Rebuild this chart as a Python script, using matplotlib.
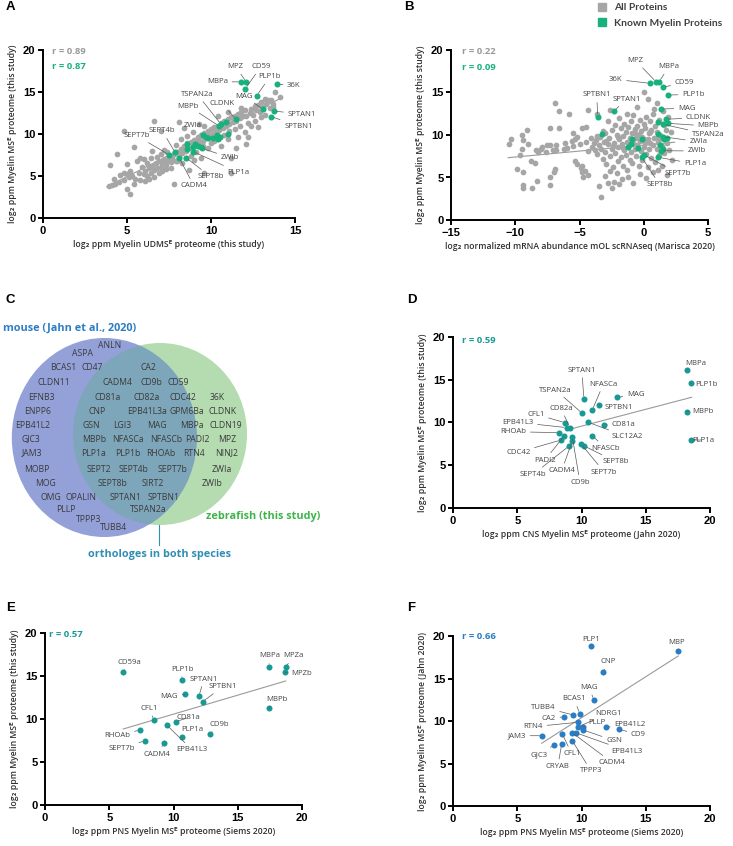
import numpy as np
import matplotlib
matplotlib.use("Agg")
import matplotlib.pyplot as plt
from matplotlib.patches import Ellipse
from matplotlib.lines import Line2D

plt.rcParams['font.family'] = ['Open Sans', 'DejaVu Sans']

GRAY = '#a6a6a6'
GREEN = '#17b27b'
TEAL = '#189a94'
BLUE = '#2a7dc4'
LABEL = '#454545'

# ---------------- panel A: UDMSE vs MSE (this study) ----------------
a_gray = np.array([
    (3.9, 3.8), (4.1, 3.9), (4.3, 4.0), (4.2, 4.7), (4.5, 4.3), (4.8, 4.5), (4.6, 5.1), (5.0, 5.2),
    (5.1, 4.9), (5.3, 5.0), (5.2, 5.6), (5.5, 4.6), (5.4, 4.1), (5.2, 2.9), (5.0, 3.5), (4.0, 6.3),
    (4.4, 7.6), (4.8, 5.3), (5.0, 6.4), (5.4, 8.5), (4.8, 10.3), (5.8, 4.5), (5.7, 5.4), (5.9, 6.1),
    (5.6, 6.8), (5.8, 7.1), (6.0, 5.2), (6.1, 5.6), (6.2, 5.0), (6.3, 5.9), (6.4, 5.4), (6.5, 6.2),
    (6.6, 5.7), (6.7, 6.5), (6.8, 5.9), (6.9, 6.8), (7.0, 6.1), (7.1, 6.6), (7.2, 7.0), (7.3, 6.3),
    (7.4, 6.8), (7.5, 7.3), (6.2, 6.6), (6.4, 7.2), (6.6, 4.9), (6.9, 5.3), (7.1, 5.6), (7.3, 5.8),
    (6.1, 4.4), (6.3, 4.6), (6.0, 7.0), (6.6, 11.6), (7.0, 10.3), (6.5, 8.0), (7.0, 7.6), (7.2, 8.1),
    (7.4, 7.9), (7.6, 6.0), (7.8, 4.1), (6.8, 7.3), (7.6, 6.7), (7.7, 7.2), (7.9, 6.8), (7.8, 7.6),
    (8.0, 7.9), (8.1, 7.3), (8.2, 8.2), (8.3, 7.7), (8.4, 8.6), (8.5, 8.0), (8.6, 8.9), (8.7, 8.3),
    (8.8, 9.1), (8.9, 8.6), (9.0, 9.3), (9.1, 8.8), (9.2, 9.6), (9.3, 9.0), (9.4, 9.9), (9.5, 9.2),
    (9.6, 10.1), (9.7, 9.5), (9.8, 10.4), (9.9, 9.8), (10.0, 10.6), (8.1, 11.4), (8.4, 10.7), (8.7, 5.7),
    (8.0, 6.8), (8.3, 6.5), (8.8, 7.4), (9.1, 7.8), (9.6, 5.3), (9.4, 7.2), (9.8, 8.3), (8.6, 9.8),
    (8.9, 10.2), (9.3, 11.2), (9.6, 11.0), (7.9, 8.7), (8.2, 9.4), (8.5, 7.2), (9.0, 6.9), (9.5, 8.6),
    (10.0, 8.9), (10.1, 10.0), (10.2, 10.8), (10.3, 10.3), (10.4, 11.0), (10.5, 10.5), (10.6, 11.3),
    (10.7, 10.7), (10.8, 11.5), (10.9, 11.0), (11.0, 11.8), (11.1, 11.2), (11.2, 12.0), (11.3, 11.4),
    (11.4, 12.2), (11.5, 11.6), (11.6, 12.4), (11.7, 11.9), (11.8, 12.6), (11.9, 12.1), (12.0, 12.8),
    (10.2, 9.2), (10.5, 9.6), (10.8, 9.9), (11.1, 10.3), (11.4, 10.6), (11.7, 10.9), (10.6, 8.6),
    (11.0, 9.4), (11.5, 8.3), (11.2, 7.2), (11.2, 5.4), (12.1, 8.8), (12.2, 9.7), (12.1, 12.1),
    (11.0, 12.6), (10.4, 12.1), (11.8, 13.1), (12.0, 10.2), (12.2, 11.3), (11.6, 9.6), (12.3, 12.5),
    (12.4, 13.0), (12.5, 12.3), (12.6, 13.3), (12.7, 12.8), (12.8, 13.5), (12.9, 12.6), (13.0, 13.8),
    (13.1, 13.2), (13.2, 14.2), (13.3, 13.6), (13.4, 14.0), (13.5, 13.1), (13.6, 14.1), (13.7, 13.6),
    (13.8, 15.0), (14.1, 14.4), (13.2, 12.3), (12.6, 11.6), (13.0, 12.0), (12.4, 11.0), (12.8, 10.8),
    (13.7, 13.2),
])
a_names = ['MPZ', 'CD59', 'MBPa', 'PLP1b', '36K', 'MAG', 'TSPAN2a', 'CLDNK', 'MBPb', 'ZWIa',
           'SEPT7b', 'SEPT4b', 'SPTAN1', 'SPTBN1', 'ZWIb', 'PLP1a', 'SEPT8b', 'CADM4']
a_x = [12.1, 12.05, 11.8, 12.72, 13.95, 13.1, 10.58, 11.49, 10.48, 9.54,
       7.52, 7.86, 13.75, 13.6, 9.45, 8.95, 8.51, 8.1]
a_y = [16.2, 15.4, 16.2, 14.56, 15.9, 12.94, 11.2, 11.75, 10.95, 9.88,
       7.5, 7.82, 12.74, 12.06, 8.3, 7.9, 7.18, 7.18]
a_other_x = [10.89, 10.99, 9.84, 10.14, 10.38, 10.44, 10.54, 9.05, 8.59, 8.55, 9.4, 8.95, 9.2, 9.7]
a_other_y = [11.46, 10.0, 9.56, 9.49, 9.88, 9.37, 9.6, 8.77, 8.21, 8.81, 8.49, 8.5, 8.6, 9.6]
a_fit_x = [3.8, 14.2]
a_fit_y = [3.7, 14.3]
a_r = ['r = 0.89', 'r = 0.87']

# ---------------- panel B: mRNA vs MSE ----------------
b_gray = np.array([
    (-10.5, 8.9), (-10.3, 9.5), (-9.9, 6.0), (-9.6, 7.6), (-9.5, 8.3), (-9.5, 10.0), (-9.4, 9.4),
    (-9.4, 5.6), (-9.4, 4.1), (-9.4, 3.8), (-9.1, 10.6), (-9.0, 8.9), (-8.8, 6.9), (-8.7, 3.8),
    (-8.5, 6.7), (-8.4, 8.2), (-8.3, 4.6), (-8.25, 8.0), (-8.0, 8.3), (-7.9, 8.6), (-7.6, 8.0),
    (-7.55, 8.8), (-7.3, 10.8), (-7.3, 8.8), (-7.3, 5.1), (-7.3, 4.1), (-7.05, 8.2), (-7.0, 5.6),
    (-6.9, 13.8), (-6.9, 6.0), (-6.8, 8.8), (-6.8, 8.2), (-6.6, 12.8), (-6.6, 10.8), (-6.2, 8.3),
    (-6.1, 9.1), (-6.0, 8.45), (-5.8, 12.5), (-5.6, 9.3), (-5.5, 8.7), (-5.35, 9.5), (-5.35, 6.9),
    (-5.2, 6.6), (-5.5, 10.2), (-5.2, 9.8), (-4.9, 6.1), (-4.8, 6.4), (-4.8, 5.7), (-4.8, 10.8),
    (-4.7, 5.0), (-4.6, 5.8), (-4.5, 10.9), (-4.3, 5.3), (-4.3, 12.9), (-3.6, 12.5),
    (-4.0, 8.6), (-3.9, 9.0), (-3.8, 8.2), (-3.7, 9.4), (-3.6, 7.8), (-3.5, 8.8), (-3.4, 9.8),
    (-3.3, 2.7), (-3.3, 8.4), (-3.2, 7.2), (-3.1, 9.2), (-3.0, 10.2), (-3.0, 8.0), (-2.9, 6.6),
    (-2.8, 4.3), (-2.8, 8.9), (-2.75, 11.7), (-2.7, 9.6), (-2.6, 7.5), (-2.5, 10.6), (-2.5, 8.3),
    (-2.45, 3.8), (-2.4, 6.2), (-2.3, 9.1), (-2.2, 7.9), (-2.2, 11.2), (-2.1, 5.5), (-2.1, 10.0),
    (-2.0, 8.6), (-2.0, 6.9), (-1.9, 9.5), (-1.9, 12.0), (-1.8, 7.4), (-1.8, 10.8), (-1.7, 8.9),
    (-1.7, 4.8), (-1.6, 9.9), (-1.6, 6.4), (-1.5, 8.2), (-1.5, 11.3), (-1.4, 10.4), (-1.4, 7.7),
    (-1.3, 9.2), (-1.3, 5.9), (-1.2, 8.6), (-1.2, 10.9), (-1.1, 9.7), (-1.1, 7.1), (-1.0, 8.0),
    (-1.0, 11.6), (-0.9, 10.2), (-0.9, 6.7), (-0.8, 9.0), (-0.8, 12.4), (-0.7, 8.4), (-0.7, 10.7),
    (-0.6, 9.6), (-0.6, 7.5), (-0.5, 13.25), (-0.5, 8.8), (-0.5, 11.1), (-0.4, 10.0), (-0.4, 6.3),
    (-0.3, 9.3), (-0.3, 11.8), (-0.2, 8.1), (-0.2, 10.5), (-0.1, 9.8), (-0.1, 7.0), (0.0, 15.1),
    (0.0, 8.6), (0.0, 11.3), (0.1, 9.1), (0.1, 10.8), (0.2, 7.8), (0.2, 12.1), (0.3, 14.2),
    (0.3, 9.5), (0.3, 6.2), (0.4, 10.2), (0.4, 8.3), (0.5, 11.6), (0.5, 9.0), (0.6, 7.3),
    (0.6, 10.6), (0.7, 8.8), (0.7, 12.5), (0.8, 13.1), (0.8, 9.7), (0.9, 6.8), (0.9, 11.0),
    (1.0, 8.4), (1.0, 10.3), (1.05, 13.8), (1.1, 9.2), (1.1, 5.9), (1.2, 7.6), (1.2, 11.8),
    (1.3, 10.0), (1.4, 8.7), (1.4, 6.4), (1.5, 9.6), (1.5, 12.8), (1.6, 7.9), (1.7, 10.6),
    (1.8, 5.3), (1.8, 9.0), (1.9, 12.1), (2.0, 8.2), (2.1, 10.3), (2.2, 7.0),
    (-3.5, 4.0), (-3.0, 5.2), (-2.6, 5.8), (-1.9, 4.2), (-1.2, 5.0), (-0.8, 4.4), (-0.3, 5.4),
    (0.2, 4.9), (0.7, 5.6), (-2.3, 4.5), (-3.6, 9.9), (-3.2, 10.5), (-2.9, 9.3), (-2.4, 8.7),
    (-2.0, 9.8), (-1.6, 8.5), (-1.0, 9.3), (-0.6, 10.1), (0.0, 9.5), (0.5, 10.4), (1.2, 9.5),
    (1.6, 11.2), (-1.3, 12.5), (-2.6, 12.9), (-4.1, 9.6), (-4.3, 8.1), (-4.5, 9.2), (-5.0, 8.9),
])
b_names = ['MPZ', 'MBPa', '36K', 'CD59', 'PLP1b', 'MAG', 'CLDNK', 'MBPb', 'TSPAN2a', 'ZWIa',
           'ZWIb', 'PLP1a', 'SEPT7b', 'SEPT8b', 'SPTBN1', 'SPTAN1']
b_x = [0.95, 1.19, 0.49, 1.47, 1.91, 1.34, 1.73, 1.91, 1.52, 1.47,
       1.34, 1.13, 0.04, -0.16, -3.58, -2.32]
b_y = [16.27, 16.27, 16.08, 15.6, 14.7, 13.06, 11.85, 11.37, 11.25, 9.8,
       8.15, 7.38, 7.65, 7.38, 12.15, 12.82]
b_other_x = [1.13, -3.27, 1.13, 1.78, 1.6, -0.94, -0.16, -0.47, -1.2, -1.02, 1.26, 1.47]
b_other_y = [11.57, 10.12, 10.08, 9.61, 9.5, 9.49, 9.49, 8.43, 8.55, 8.94, 8.82, 8.31]
b_fit_x = [-10.55, 2.4]
b_fit_y = [7.33, 9.15]
b_r = ['r = 0.22', 'r = 0.09']

# ---------------- panel C: Venn ----------------
mouse_only = ['ANLN', 'ASPA', 'BCAS1', 'CD47', 'CLDN11', 'EFNB3', 'ENPP6', 'EPB41L2', 'GJC3',
              'JAM3', 'MOBP', 'MOG', 'OMG', 'OPALIN', 'PLLP', 'TPPP3', 'TUBB4']
both_species = ['CA2', 'CADM4', 'CD9b', 'CD59', 'CD81a', 'CD82a', 'CDC42', 'CNP', 'EPB41L3a',
                'GPM6Ba', 'GSN', 'LGI3', 'MAG', 'MBPa', 'MBPb', 'NFASCa', 'NFASCb', 'PADI2',
                'PLP1a', 'PLP1b', 'RHOAb', 'RTN4', 'SEPT2', 'SEPT4b', 'SEPT7b', 'SEPT8b',
                'SIRT2', 'SPTAN1', 'SPTBN1', 'TSPAN2a']
zebrafish_only = ['36K', 'CLDNK', 'CLDN19', 'MPZ', 'NINJ2', 'ZWIa', 'ZWIb']

# ---------------- panel D: CNS (Jahn 2020) vs this study ----------------
d_names = ['MBPa', 'PLP1b', 'MBPb', 'PLP1a', 'SPTAN1', 'NFASCa', 'MAG', 'TSPAN2a', 'SPTBN1',
           'CD82a', 'CFL1', 'EPB41L3', 'RHOAb', 'CD81a', 'SLC12A2', 'NFASCb', 'CDC42',
           'PADI2', 'SEPT8b', 'SEPT4b', 'CADM4', 'SEPT7b', 'CD9b']
d_x = [18.18, 18.52, 18.18, 18.52, 10.19, 10.84, 12.74, 10.06, 11.36,
       9.1, 8.72, 8.85, 8.27, 11.72, 10.53, 10.84, 8.4,
       8.66, 10.22, 9.03, 9.28, 9.96, 9.28]
d_y = [16.14, 14.58, 11.27, 7.95, 12.75, 11.46, 12.94, 11.07, 12.05,
       9.4, 9.98, 9.4, 8.81, 9.71, 10.02, 8.46, 7.95,
       8.46, 7.25, 7.25, 7.84, 7.49, 8.34]
d_fit_x = [8.85, 18.57]
d_fit_y = [9.12, 12.95]

# ---------------- panel E: PNS (Siems 2020) vs this study ----------------
e_names = ['CD59a', 'MBPa', 'MPZa', 'MPZb', 'MBPb', 'PLP1b', 'MAG', 'SPTAN1', 'SPTBN1', 'CFL1',
           'CD81a', 'EPB41L3', 'PLP1a', 'CD9b', 'RHOAb', 'SEPT7b', 'CADM4']
e_x = [6.09, 17.43, 18.73, 18.68, 17.43, 10.64, 10.89, 11.98, 12.27, 8.48,
       10.17, 9.47, 10.64, 12.84, 7.39, 7.78, 9.26]
e_y = [15.43, 16.08, 16.01, 15.43, 11.24, 14.53, 12.87, 12.67, 12.01, 9.88,
       9.69, 9.3, 7.95, 8.26, 8.72, 7.48, 7.17]
e_fit_x = [6.09, 18.73]
e_fit_y = [8.84, 14.42]

# ---------------- panel F: PNS (Siems 2020) vs CNS (Jahn 2020) ----------------
f_names = ['PLP1', 'MBP', 'CNP', 'MAG', 'BCAS1', 'TUBB4', 'CA2', 'NDRG1', 'RTN4', 'PLLP',
           'EPB41L2', 'CD9', 'JAM3', 'GSN', 'EPB41L3', 'CADM4', 'TPPP3', 'CRYAB', 'CFL1', 'GJC3']
f_x = [10.74, 17.48, 11.7, 10.97, 9.88, 9.36, 8.64, 9.75, 9.75, 10.14,
       11.91, 12.92, 6.95, 10.14, 9.55, 9.28, 9.28, 8.46, 8.51, 7.86]
f_y = [18.86, 18.27, 15.73, 12.47, 10.82, 10.71, 10.51, 9.33, 9.85, 9.33,
       9.25, 9.02, 8.27, 8.94, 8.62, 8.62, 7.69, 7.29, 8.47, 7.18]
f_fit_x = [6.9, 17.53]
f_fit_y = [7.38, 17.65]

# label positions (data units), same order as the name lists
a_text = [(11.47, 18.0), (12.96, 18.0), (10.38, 16.23), (13.51, 16.82), (14.94, 15.83),
          (11.98, 14.52), (9.18, 14.73), (10.64, 13.65), (8.65, 13.33), (8.91, 10.99),
          (5.58, 9.8), (7.1, 10.36), (15.4, 12.35), (15.2, 10.95), (11.13, 7.18),
          (11.63, 5.44), (9.98, 4.92), (8.99, 3.81)]
b_text = [(-0.63, 18.74), (1.96, 18.04), (-2.18, 16.55), (3.16, 16.2), (3.86, 14.79),
          (3.34, 13.14), (4.25, 12.04), (5.02, 11.06), (5.02, 10.08), (4.25, 9.21),
          (4.12, 8.12), (3.99, 6.59), (2.69, 5.49), (1.26, 4.12), (-3.66, 14.71), (-1.33, 14.2)]
d_text = [(18.91, 16.92), (19.74, 14.5), (19.48, 11.26), (19.48, 7.95), (10.02, 16.14),
          (11.7, 14.5), (14.22, 13.22), (7.99, 13.8), (12.92, 11.78), (8.4, 11.66),
          (6.44, 10.96), (5.04, 10.02), (4.69, 8.92), (13.25, 9.79), (13.52, 8.34),
          (11.88, 6.98), (5.08, 6.51), (7.16, 5.61), (12.66, 5.42), (6.25, 3.94),
          (8.46, 4.36), (11.77, 4.21), (9.88, 3.01)]
e_text = [(6.54, 16.59), (17.46, 17.33), (19.32, 17.33), (19.97, 15.31), (18.03, 12.29),
          (10.69, 15.81), (9.68, 12.67), (12.37, 14.65), (13.83, 13.76), (8.09, 11.24),
          (11.15, 10.15), (11.46, 6.4), (11.46, 8.8), (13.54, 9.36), (5.63, 8.06),
          (5.97, 6.59), (8.74, 5.93)]
f_text = [(10.74, 19.61), (17.41, 19.29), (12.04, 16.98), (10.58, 13.96), (9.42, 12.59),
          (7.03, 11.61), (7.47, 10.24), (12.14, 10.9), (6.25, 9.33), (11.23, 9.8),
          (13.77, 9.61), (14.42, 8.43), (4.96, 8.27), (12.53, 7.69), (13.56, 6.47),
          (12.4, 5.1), (10.74, 4.12), (8.15, 4.63), (9.24, 6.12), (6.72, 6.08)]


def style_axes(ax, xlim, xticks, xlabel, ylabel):
    ax.set_xlim(*xlim)
    ax.set_ylim(0, 20)
    ax.set_xticks(xticks)
    ax.set_yticks([0, 5, 10, 15, 20])
    for s in ['top', 'right']:
        ax.spines[s].set_visible(False)
    for s in ['left', 'bottom']:
        ax.spines[s].set_linewidth(1.4)
    ax.tick_params(width=1.4, length=3.5, pad=2, labelsize=8)
    for t in ax.get_xticklabels() + ax.get_yticklabels():
        t.set_fontweight('bold')
        t.set_family(['Liberation Sans', 'DejaVu Sans'])
    ax.set_xlabel(xlabel, fontsize=6.2, fontweight='semibold', color='#303030', labelpad=3)
    ax.set_ylabel(ylabel, fontsize=6.2, fontweight='semibold', color='#303030', labelpad=4)
    ax.patch.set_alpha(0)


def label_points(ax, names, xs, ys, text_pos):
    for name, x, y, (tx, ty) in zip(names, xs, ys, text_pos):
        ax.annotate(name, xy=(x, y), xytext=(tx, ty), ha='center', va='center',
                    fontsize=5.6, color=LABEL, annotation_clip=False, zorder=5,
                    arrowprops=dict(arrowstyle='-', color='#5a5a5a', lw=0.5,
                                    shrinkA=1, shrinkB=2))


W, H = 733, 846
fig = plt.figure(figsize=(W / 100, H / 100), dpi=100)


def add_px_axes(left, top, right, bottom):
    return fig.add_axes([left / W, 1 - bottom / H, (right - left) / W, (bottom - top) / H])


ylab_this = 'log\u2082 ppm Myelin MS\u1d31 proteome (this study)'

# A
ax_a = add_px_axes(43, 50, 295, 218)
ax_a.plot(a_fit_x, a_fit_y, color='#9a9a9a', lw=0.8, zorder=1)
ax_a.scatter(a_gray[:, 0], a_gray[:, 1], s=17, color=GRAY, linewidths=0, zorder=2)
ax_a.scatter(a_other_x, a_other_y, s=19, color=GREEN, linewidths=0, zorder=3)
ax_a.scatter(a_x, a_y, s=19, color=GREEN, linewidths=0, zorder=3)
label_points(ax_a, a_names, a_x, a_y, a_text)
style_axes(ax_a, (0, 15), [0, 5, 10, 15],
           'log\u2082 ppm Myelin UDMS\u1d31 proteome (this study)', ylab_this)
ax_a.text(0.035, 0.99, a_r[0], transform=ax_a.transAxes, fontsize=6.8, fontweight='bold',
          color='#9a9a9a', va='center')
ax_a.text(0.035, 0.90, a_r[1], transform=ax_a.transAxes, fontsize=6.8, fontweight='bold',
          color=GREEN, va='center')

# B
ax_b = add_px_axes(451, 50, 708, 220)
ax_b.plot(b_fit_x, b_fit_y, color='#9a9a9a', lw=0.8, zorder=1)
ax_b.scatter(b_gray[:, 0], b_gray[:, 1], s=17, color=GRAY, linewidths=0, zorder=2)
ax_b.scatter(b_other_x, b_other_y, s=19, color=GREEN, linewidths=0, zorder=3)
ax_b.scatter(b_x, b_y, s=19, color=GREEN, linewidths=0, zorder=3)
label_points(ax_b, b_names, b_x, b_y, b_text)
style_axes(ax_b, (-15, 5), [-15, -10, -5, 0, 5],
           'log\u2082 normalized mRNA abundance mOL scRNAseq (Marisca 2020)', ylab_this)
ax_b.text(0.042, 0.99, b_r[0], transform=ax_b.transAxes, fontsize=6.8, fontweight='bold',
          color='#9a9a9a', va='center')
ax_b.text(0.042, 0.90, b_r[1], transform=ax_b.transAxes, fontsize=6.8, fontweight='bold',
          color=GREEN, va='center')

handles = [Line2D([], [], marker='s', ls='', color=GRAY, markersize=6),
           Line2D([], [], marker='s', ls='', color=GREEN, markersize=6)]
leg = fig.legend(handles, ['All Proteins', 'Known Myelin Proteins'], loc='upper left',
                 bbox_to_anchor=(597 / W, 1 - 3 / H), frameon=False, handlelength=1.0,
                 handletextpad=0.7, labelspacing=0.65, borderpad=0, borderaxespad=0,
                 prop={'family': ['Lato', 'DejaVu Sans'], 'size': 7.4, 'weight': 'bold'})
for t in leg.get_texts():
    t.set_color('#404040')

# C - Venn
ax_c = add_px_axes(0, 280, 370, 570)
ax_c.set_xlim(0, 370)
ax_c.set_ylim(570, 280)
ax_c.axis('off')
blue_c = Ellipse((104.3, 437.5), 185, 199, facecolor='#93a1d8', edgecolor='none', zorder=1)
green_c = Ellipse((160, 434), 174, 182, facecolor='#b5dbb1', edgecolor='none', zorder=1)
overlap = Ellipse((160, 434), 174, 182, facecolor='#7ea6ba', edgecolor='none', zorder=2)
ax_c.add_patch(green_c)
ax_c.add_patch(blue_c)
ax_c.add_patch(overlap)
overlap.set_clip_path(blue_c)

mouse_pos = [(110, 345), (82, 353), (63, 367), (92, 367), (54, 382), (41, 397), (38, 412),
             (33, 425), (31, 439), (32, 453), (37, 469), (46, 483), (51, 498), (81, 498),
             (66, 510), (89, 519), (114, 528)]
both_pos = [(148, 367), (117, 382), (151, 382), (178, 382), (108, 397), (147, 397), (183, 397),
            (97, 412), (147, 412), (187, 412), (91, 425), (122, 425), (157, 425), (192, 425),
            (94, 439), (128, 439), (166, 439), (197, 439), (94, 453), (128, 453), (161, 453),
            (194, 453), (99, 469), (134, 469), (173, 469), (113, 483), (153, 483), (126, 498),
            (164, 498), (148, 510)]
zf_pos = [(217, 397), (223, 412), (226, 425), (227, 439), (227, 453), (222, 469), (212, 483)]
for names, pos in [(mouse_only, mouse_pos), (both_species, both_pos), (zebrafish_only, zf_pos)]:
    for name, (x, y) in zip(names, pos):
        ax_c.text(x, y, name, ha='center', va='center', fontsize=6.2, color='#3a3a3a', zorder=4)
ax_c.text(3, 328, 'mouse (Jahn et al., 2020)', ha='left', va='center', fontsize=7.8,
          fontweight='bold', color=BLUE)
ax_c.text(263, 517, 'zebrafish (this study)', ha='center', va='center', fontsize=7.8,
          fontweight='bold', color='#3db54a')
ax_c.text(159, 555, 'orthologes in both species', ha='center', va='center', fontsize=7.8,
          fontweight='bold', color='#2f8eb2')
ax_c.plot([159, 159], [525, 545], color='#2f8eb2', lw=0.8)

# D
ax_d = add_px_axes(453, 337, 710, 508)
ax_d.plot(d_fit_x, d_fit_y, color='#9a9a9a', lw=0.8, zorder=1)
ax_d.scatter(d_x, d_y, s=19, color=TEAL, linewidths=0, zorder=3)
label_points(ax_d, d_names, d_x, d_y, d_text)
style_axes(ax_d, (0, 20), [0, 5, 10, 15, 20],
           'log\u2082 ppm CNS Myelin MS\u1d31 proteome (Jahn 2020)', ylab_this)
ax_d.text(0.034, 0.98, 'r = 0.59', transform=ax_d.transAxes, fontsize=6.8, fontweight='bold',
          color=TEAL, va='center')

# E
ax_e = add_px_axes(45, 633, 302, 805)
ax_e.plot(e_fit_x, e_fit_y, color='#9a9a9a', lw=0.8, zorder=1)
ax_e.scatter(e_x, e_y, s=19, color=TEAL, linewidths=0, zorder=3)
label_points(ax_e, e_names, e_x, e_y, e_text)
style_axes(ax_e, (0, 20), [0, 5, 10, 15, 20],
           'log\u2082 ppm PNS Myelin MS\u1d31 proteome (Siems 2020)', ylab_this)
ax_e.text(0.015, 0.99, 'r = 0.57', transform=ax_e.transAxes, fontsize=6.8, fontweight='bold',
          color=TEAL, va='center')

# F
ax_f = add_px_axes(453, 636, 710, 806)
ax_f.plot(f_fit_x, f_fit_y, color='#9a9a9a', lw=0.8, zorder=1)
ax_f.scatter(f_x, f_y, s=19, color=BLUE, linewidths=0, zorder=3)
label_points(ax_f, f_names, f_x, f_y, f_text)
style_axes(ax_f, (0, 20), [0, 5, 10, 15, 20],
           'log\u2082 ppm PNS Myelin MS\u1d31 proteome (Siems 2020)',
           'log\u2082 ppm Myelin MS\u1d31 proteome (Jahn 2020)')
ax_f.text(0.034, 1.0, 'r = 0.66', transform=ax_f.transAxes, fontsize=6.8, fontweight='bold',
          color=BLUE, va='center')

# panel letters
for letter, x, y in [('A', 6, 7), ('B', 404, 7), ('C', 6, 300), ('D', 407, 300),
                     ('E', 6, 608), ('F', 407, 608)]:
    fig.text(x / W, 1 - y / H, letter, fontsize=9.5, fontweight='bold', va='center',
             family=['Liberation Sans', 'DejaVu Sans'])

fig.savefig('out.png', dpi=100)
